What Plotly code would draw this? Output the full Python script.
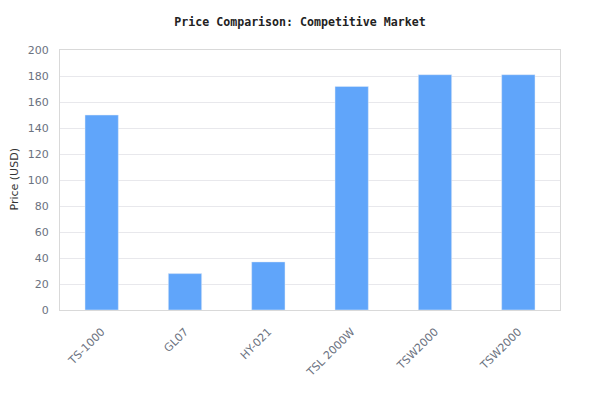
import plotly.graph_objects as go

categories = ["TS-1000", "GL07", "HY-021", "TSL 2000W", "TSW2000", "TSW2000"]
prices = [150, 28, 37, 172, 181, 181]
y_title = "Price (USD)"

positions = list(range(len(categories)))

fig = go.Figure(go.Bar(
    x=positions, y=prices, marker_color="#60a5fa", width=0.4,
    hovertemplate="%{y}<extra></extra>"
))

fig.update_layout(
    width=600, height=420,
    margin=dict(l=52, r=48, t=42, b=118, autoexpand=False),
    paper_bgcolor="white", plot_bgcolor="white",
    title=dict(text="<b>Price Comparison: Competitive Market</b>", x=292/600, xanchor="center",
               y=1 - 14/420, yanchor="middle",
               font=dict(family="DejaVu Sans Mono", size=11.6, color="#222")),
    font=dict(family="DejaVu Sans", size=11, color="#6b7280"),
    showlegend=False,
    annotations=[dict(text=y_title, xref="paper", yref="paper", x=-0.11, y=0.5,
                      xanchor="left", yanchor="middle", textangle=-90, showarrow=False,
                      font=dict(size=11, color="#333"))],
)
fig.update_xaxes(
    tickmode="array", tickvals=positions, ticktext=categories,
    range=[-0.5, len(categories) - 0.5], tickangle=-45,
    showgrid=False, showline=True, linecolor="#d9d9d9", mirror=True,
    ticks="", ticklabelstandoff=10, tickfont=dict(size=11, color="#6b7280"),
)
fig.update_yaxes(
    range=[0, 200], dtick=20, showgrid=True, gridcolor="#e8e8ec",
    showline=True, linecolor="#d9d9d9", mirror=True, zeroline=False,
    ticklabelstandoff=8,
    tickfont=dict(size=11, color="#6b7280"),
)

fig.write_html("out.html")
